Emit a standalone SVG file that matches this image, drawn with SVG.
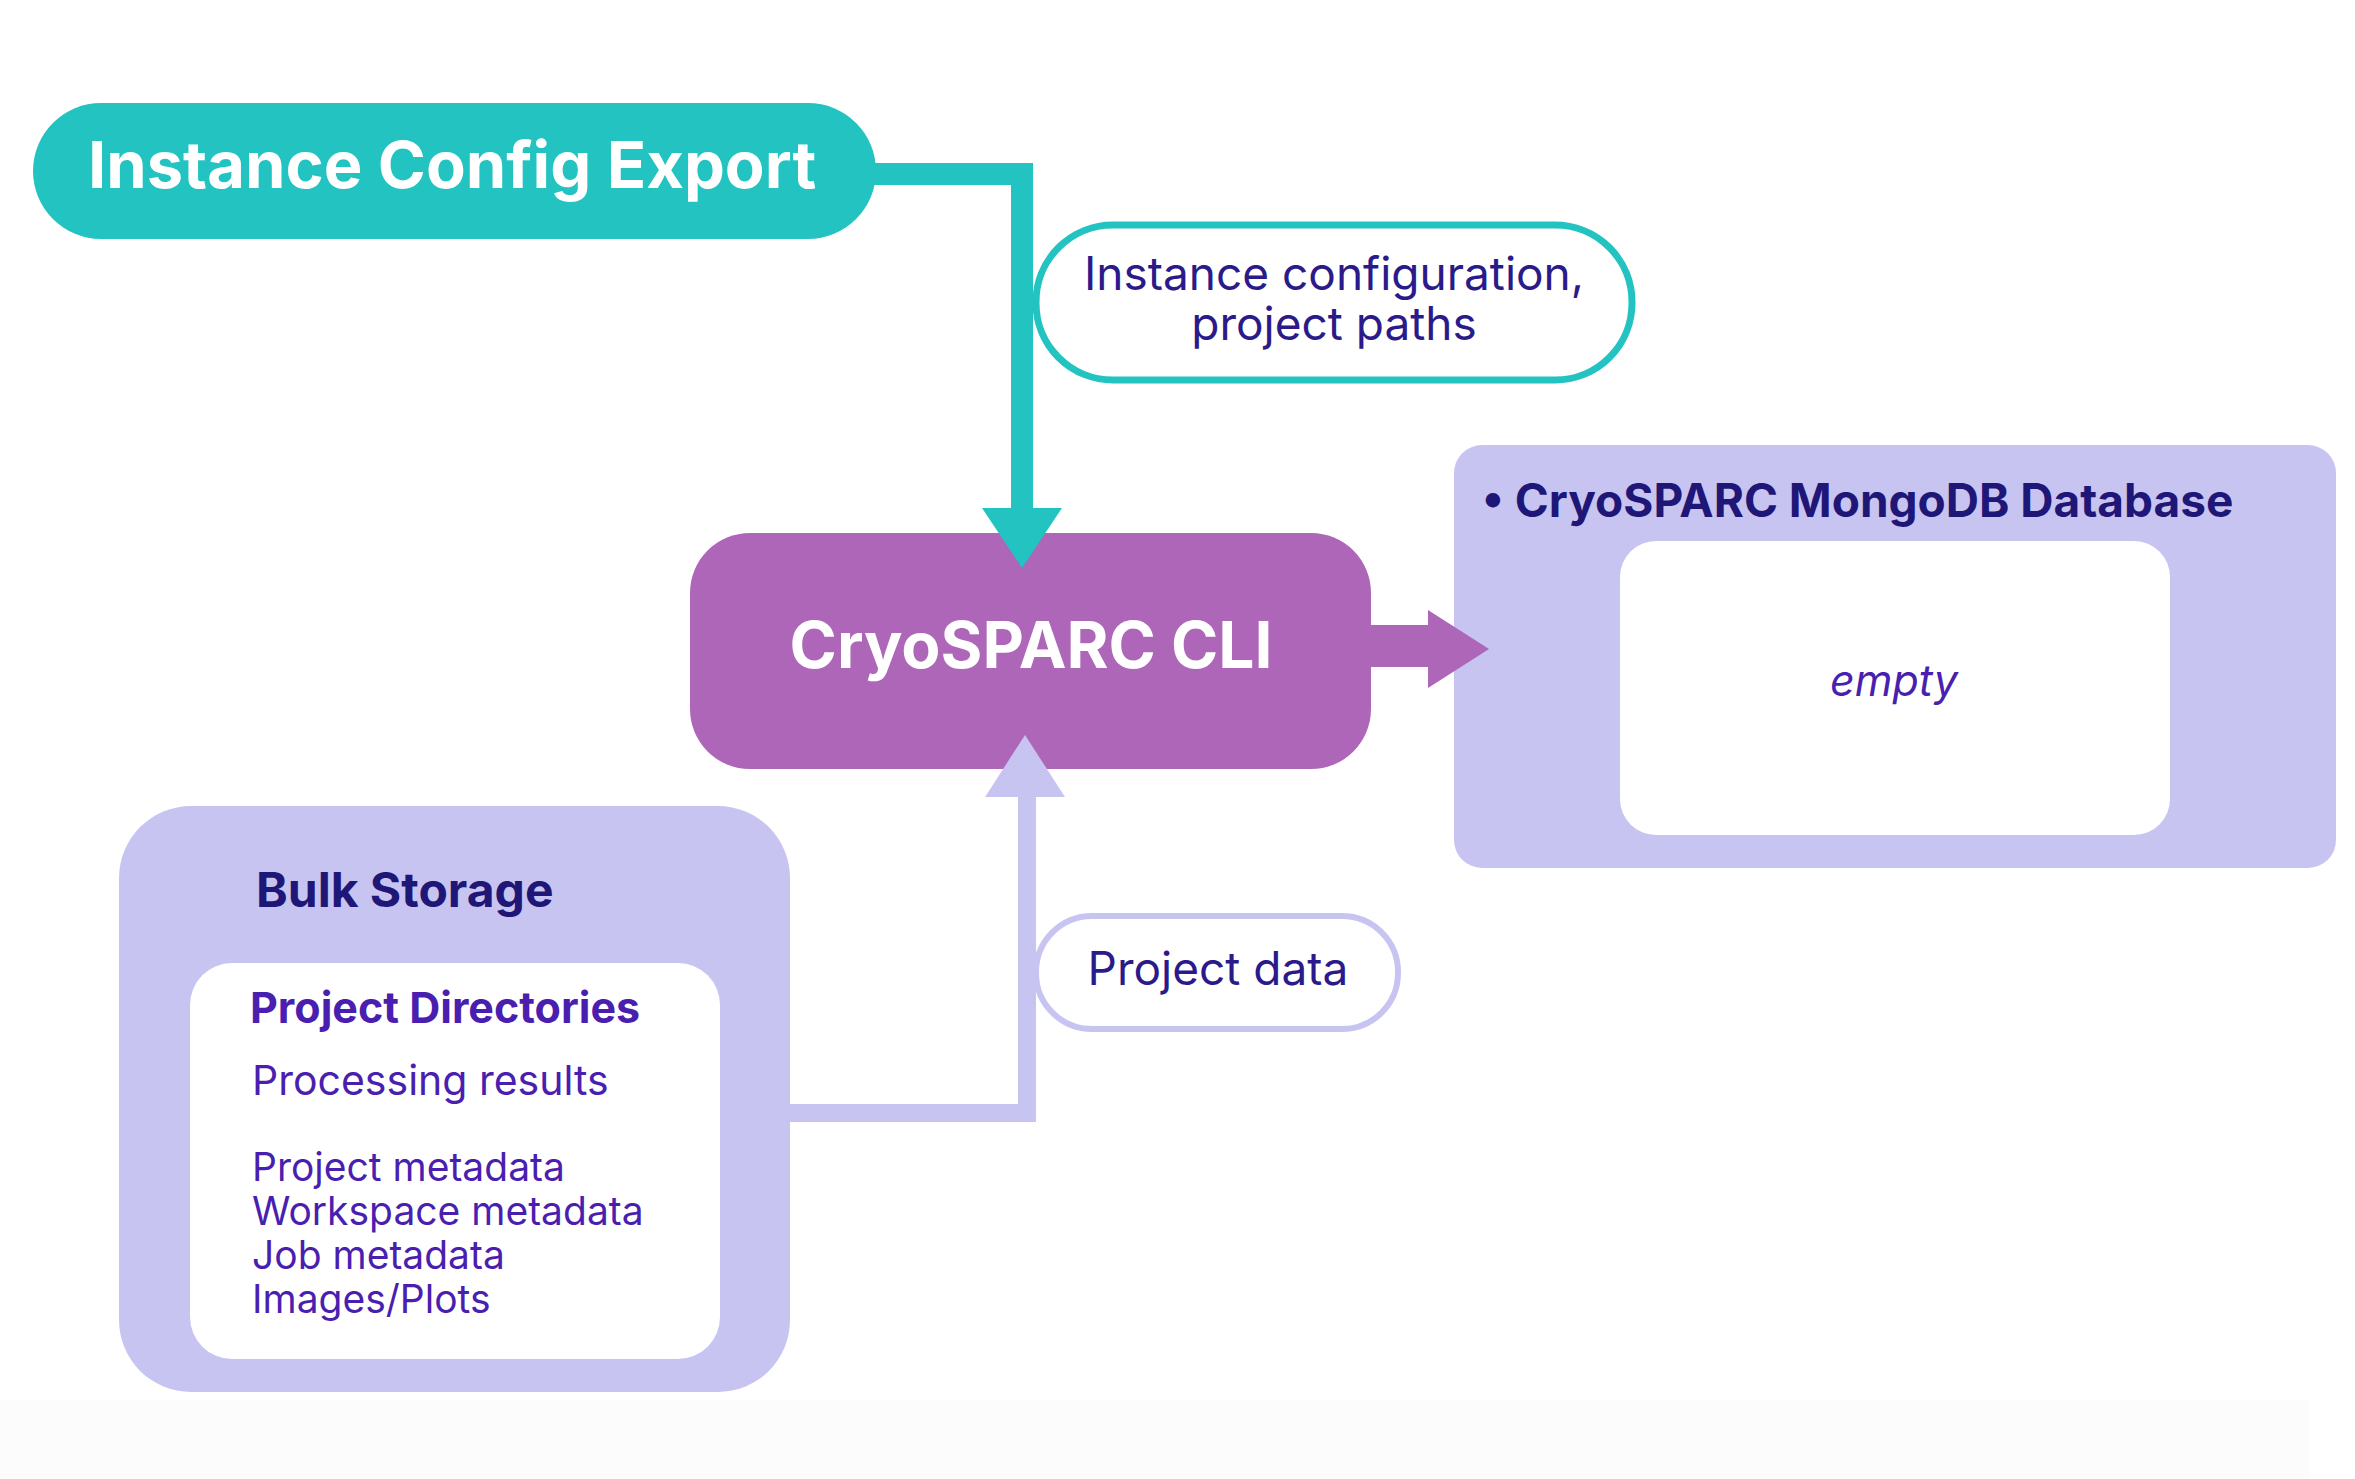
<svg xmlns="http://www.w3.org/2000/svg" width="2355" height="1479" viewBox="0 0 2355 1479">
<style>
text{font-family:Inter,"Liberation Sans",sans-serif}
.wb{fill:#fff;font-weight:700}
.ind{fill:#2B1B8A}
.pur{fill:#4A1FB0}
</style>
<rect width="2355" height="1479" fill="#fff"/>
<rect x="0" y="1400" width="2310" height="88" fill="#FCFCFC"/>
<g id="export">
<rect x="33" y="103" width="843" height="136" rx="68" fill="#22C3C0"/>
<text x="88" y="188" class="wb" font-size="65">Instance Config Export</text>
</g>
<g id="label-config">
<rect x="1036" y="225" width="596" height="155" rx="77" fill="#fff" stroke="#22C3C0" stroke-width="7"/>
<text x="1334" y="290" class="ind" font-size="46" text-anchor="middle">Instance configuration,</text>
<text x="1334" y="340" class="ind" font-size="46" text-anchor="middle">project paths</text>
</g>
<g id="cli">
<rect x="690" y="533" width="681" height="236" rx="60" fill="#AD66B8"/>
<text x="1031" y="668" class="wb" font-size="64" text-anchor="middle">CryoSPARC CLI</text>
</g>
<g id="mongodb">
<rect x="1454" y="445" width="882" height="423" rx="28" fill="#C8C4F2"/>
<text x="1482" y="517" font-size="46" font-weight="700" fill="#1F1777">• CryoSPARC MongoDB Database</text>
<rect x="1620" y="541" width="550" height="294" rx="36" fill="#fff"/>
<text x="1894" y="696" font-size="43" font-style="italic" class="pur" text-anchor="middle">empty</text>
</g>
<g id="label-project">
<rect x="1036" y="916" width="362" height="113" rx="56" fill="#fff" stroke="#C8C4F2" stroke-width="6"/>
<text x="1218" y="985" class="ind" font-size="46" text-anchor="middle">Project data</text>
</g>
<g id="bulk">
<rect x="119" y="806" width="671" height="586" rx="72" fill="#C8C4F2"/>
<text x="256" y="907" font-size="48" font-weight="700" fill="#1F1777">Bulk Storage</text>
<rect x="190" y="963" width="530" height="396" rx="42" fill="#fff"/>
<text x="250" y="1023" font-size="43" font-weight="700" class="pur">Project Directories</text>
<text x="252" y="1095" font-size="41" class="pur">Processing results</text>
<text x="252" y="1181" font-size="39" class="pur">Project metadata</text>
<text x="252" y="1225" font-size="39" class="pur">Workspace metadata</text>
<text x="252" y="1269" font-size="39" class="pur">Job metadata</text>
<text x="252" y="1313" font-size="39" class="pur">Images/Plots</text>
</g>
<g id="connectors">
<path d="M870 174 H1022 V515" fill="none" stroke="#22C3C0" stroke-width="22"/>
<polygon points="982,508 1062,508 1022,568" fill="#22C3C0"/>
<rect x="1371" y="625" width="60" height="42" fill="#AD66B8"/>
<polygon points="1428,610 1428,688 1489,649" fill="#AD66B8"/>
<path d="M790 1113 H1027 V790" fill="none" stroke="#C8C4F2" stroke-width="18"/>
<polygon points="985,797 1065,797 1025,735" fill="#C8C4F2"/>
</g>
</svg>
